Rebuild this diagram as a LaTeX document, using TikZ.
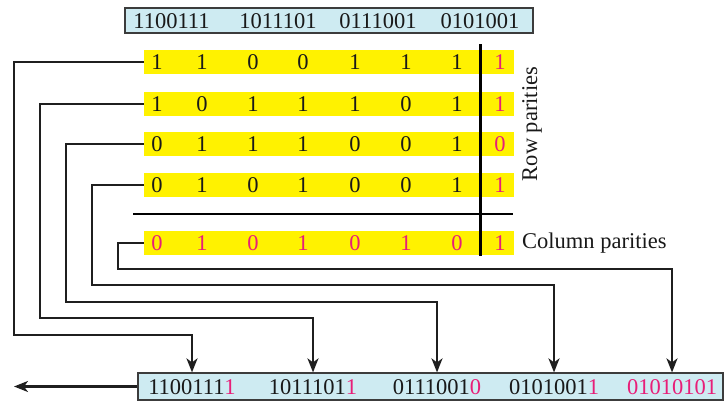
\documentclass[tikz,border=0pt]{standalone}
\usepackage{fontspec}
\setmainfont{Liberation Serif}
\usetikzlibrary{arrows.meta}
\definecolor{pinkc}{RGB}{232,30,120}
\definecolor{lblue}{RGB}{206,235,242}
\definecolor{bordc}{RGB}{60,60,60}
\begin{document}
\begin{tikzpicture}[x=1pt,y=-1pt,
  txt/.style={font=\fontsize{22.5}{26}\selectfont, inner sep=0pt, text=black!90},
  box/.style={draw=bordc, fill=lblue, line width=1.2pt, inner sep=0pt},
  ybar/.style={fill=yellow, inner sep=0pt, minimum width=370, minimum height=24},
  conn/.style={line width=2.2pt, draw=black!88},
  arr/.style={conn, -{Stealth[length=14pt,width=11pt,inset=4pt]}},
  sepline/.style={line width=2.8pt, draw=black}]
\useasboundingbox (0,0) rectangle (727,410);
% top box
\node[box, minimum width=408, minimum height=25] (top) at (329,20.5) {};
\node[txt] (t1) at (171.5,21) {1100111};
\node[txt] (t2) at (278,21) {1011101};
\node[txt] (t3) at (378,21) {0111001};
\node[txt] (t4) at (480,21) {0101001};
% yellow rows
\node[ybar] (r1) at (329,62) {};
\node[ybar] (r2) at (329,104) {};
\node[ybar] (r3) at (329,144) {};
\node[ybar] (r4) at (329,185) {};
\node[ybar] (cp) at (329,243) {};
\foreach \r/\y/\bits/\p in {1/62/{1,1,0,0,1,1,1}/1, 2/104/{1,0,1,1,1,0,1}/1, 3/144/{0,1,1,1,0,0,1}/0, 4/185/{0,1,0,1,0,0,1}/1}{
  \foreach \d [count=\i] in \bits {
    \pgfmathsetmacro\xx{{157,202,253,303,355,406,457}[\i-1]}
    \node[txt] (d\r-\i) at (\xx,\y) {\d};
  }
  \node[txt, text=pinkc] (p\r) at (500,\y) {\p};
}
\foreach \d [count=\i] in {0,1,0,1,0,1,0} {
  \pgfmathsetmacro\xx{{157,202,253,303,355,406,457}[\i-1]}
  \node[txt, text=pinkc] (c-\i) at (\xx,243) {\d};
}
\node[txt, text=pinkc] (pc) at (500,243) {1};
% separators
\coordinate (vt) at (480.5,44);
\coordinate (vb) at (480.5,256);
\coordinate (hl) at (133,214);
\coordinate (hr) at (513,214);
\draw[sepline] (vt) -- (vb);
\draw[sepline] (hl) -- (hr);
% labels
\node[txt, rotate=90] (rpl) at (532,124) {Row parities};
\node[txt, anchor=west] (cpl) at (522,243) {Column parities};
% bottom box
\node[box, minimum width=585, minimum height=27] (bot) at (430.5,386.5) {};
\node[txt] (b1) at (192,387) {1100111\textcolor{pinkc}{1}};
\node[txt] (b2) at (313,387) {1011101\textcolor{pinkc}{1}};
\node[txt] (b3) at (437,387) {0111001\textcolor{pinkc}{0}};
\node[txt] (b4) at (554,387) {0101001\textcolor{pinkc}{1}};
\node[txt, text=pinkc] (b5) at (672,387) {01010101};
% connectors
\draw[arr] (r1.west) -| (14,335) -| (b1.north |- bot.north);
\draw[arr] (r2.west) -| (40,318) -| (b2.north |- bot.north);
\draw[arr] (r3.west) -| (66,302) -| (b3.north |- bot.north);
\draw[arr] (r4.west) -| (92,285) -| (b4.north |- bot.north);
\draw[arr] (cp.west) -| (118,269) -| (b5.north |- bot.north);
\coordinate (out) at (14,386.5);
\draw[arr] (bot.west) -- (out);
\end{tikzpicture}
\end{document}
